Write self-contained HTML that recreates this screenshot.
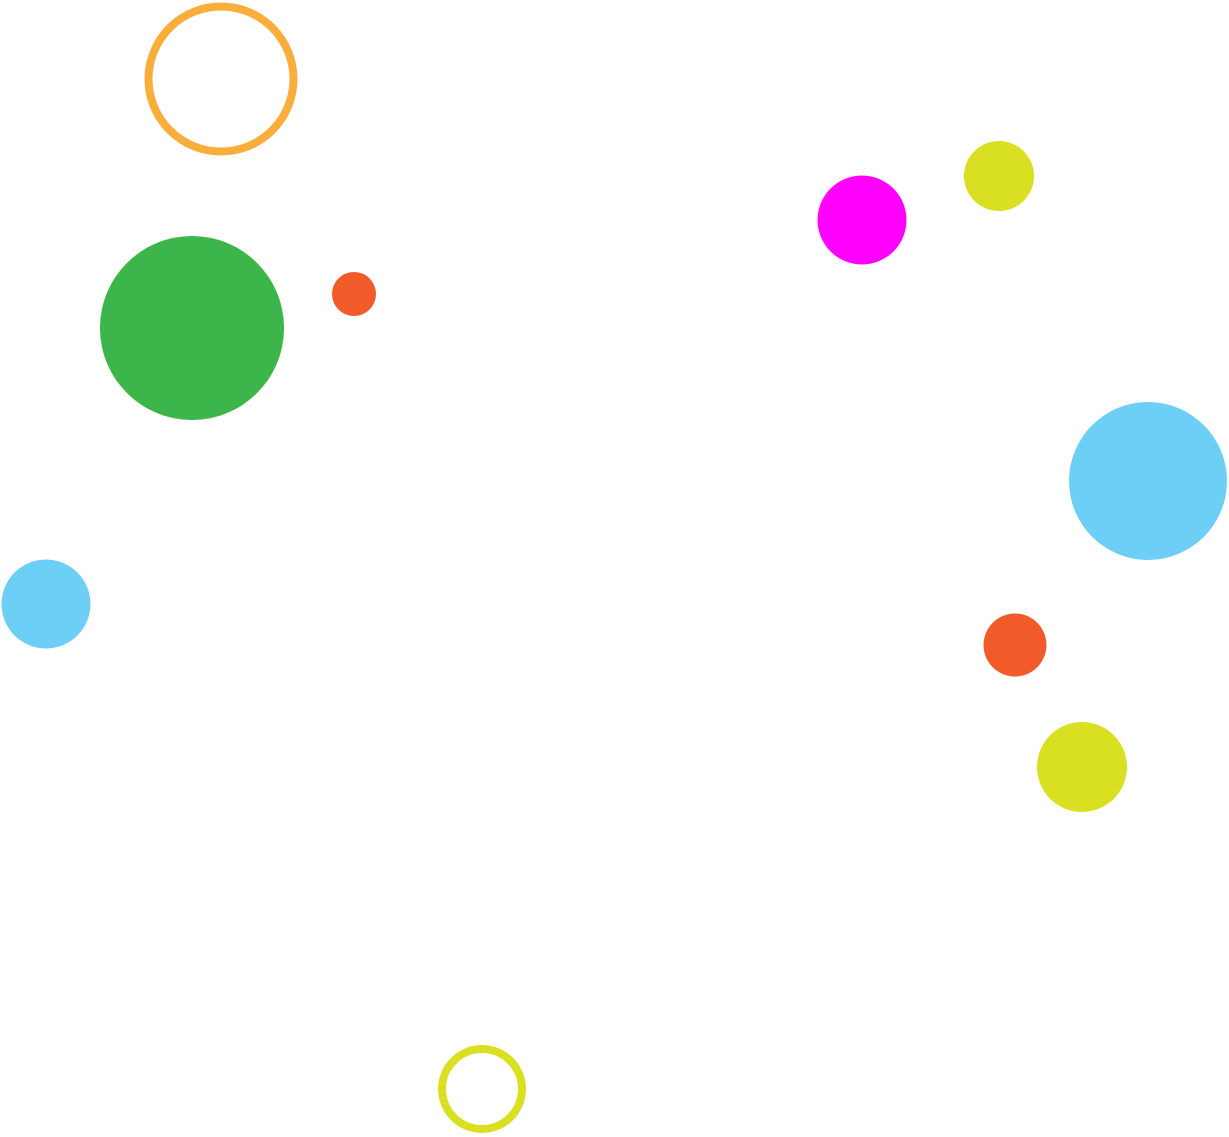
<!DOCTYPE html>
<html><head><style>html,body{margin:0;padding:0;background:#fff;}svg{display:block}</style></head>
<body>
<svg width="1229" height="1137" viewBox="0 0 1229 1137" xmlns="http://www.w3.org/2000/svg">
<circle cx="221" cy="79" r="72.5" fill="none" stroke="#F9AE3B" stroke-width="8"/>
<circle cx="192" cy="328" r="92" fill="#3CB54B"/>
<circle cx="354" cy="294" r="22" fill="#F15A29"/>
<circle cx="862" cy="220" r="44.5" fill="#FF00FF"/>
<circle cx="999" cy="176" r="35" fill="#D9E021"/>
<circle cx="1148" cy="481" r="79" fill="#6DCFF6"/>
<circle cx="46" cy="604" r="44.5" fill="#6DCFF6"/>
<circle cx="1015" cy="645" r="31.5" fill="#F15A29"/>
<circle cx="1082" cy="767" r="45" fill="#D9E021"/>
<circle cx="482" cy="1089" r="40" fill="none" stroke="#D9E021" stroke-width="8"/>
</svg>
</body></html>
